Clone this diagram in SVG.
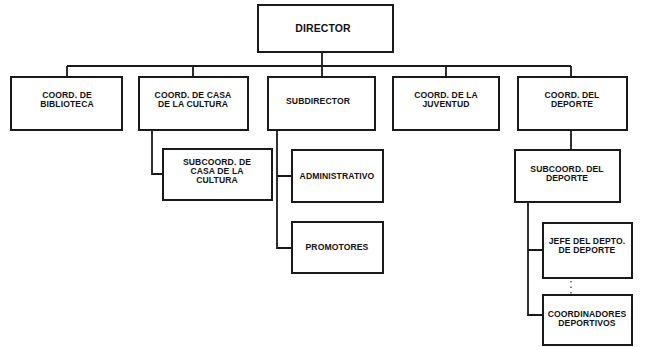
<svg xmlns="http://www.w3.org/2000/svg" width="647" height="347" viewBox="0 0 647 347">
  <style>
    .box { fill: #fff; stroke: #1a1a1a; stroke-width: 2; }
    .lbl { font-family: "Liberation Sans", Arial, sans-serif; font-weight: bold; font-size: 8.6px; fill: #111; text-anchor: middle; letter-spacing: 0.1px; }
    .big { font-size: 10.5px; }
    .wire { fill: none; stroke: #1a1a1a; stroke-width: 1.8; }
    .dots { fill: none; stroke: #333; stroke-width: 1.2; stroke-dasharray: 1.5 4; }
  </style>
  <rect width="647" height="347" fill="#fff"/>

  <g id="connectors">
    <!-- director to first row bus -->
    <path class="wire" d="M322 52 V66 M67 66 H571 M67 66 V77 M193 66 V77 M322 66 V77 M446 66 V77 M571 66 V77"/>
    <!-- casa de la cultura branch -->
    <path class="wire" d="M152 130 V174 H163"/>
    <!-- subdirector branch -->
    <path class="wire" d="M277 130 V248 H292 M277 176 H292"/>
    <!-- deporte branch -->
    <path class="wire" d="M571 130 V150 M528 202 V315 H543 M528 250 H543"/>
    <path class="dots" d="M571 92 V108 M571 270 V342"/>
  </g>

  <g id="director">
    <rect class="box" x="258" y="5" width="135" height="47"/>
    <text class="lbl big" x="323" y="32">DIRECTOR</text>
  </g>

  <g id="coord-biblioteca">
    <rect class="box" x="11" y="77" width="111" height="53"/>
    <text class="lbl" x="67" y="98">COORD. DE</text>
    <text class="lbl" x="67" y="107">BIBLIOTECA</text>
  </g>

  <g id="coord-casa-cultura">
    <rect class="box" x="139" y="77" width="109" height="53"/>
    <text class="lbl" x="193" y="98">COORD. DE CASA</text>
    <text class="lbl" x="193" y="107">DE LA CULTURA</text>
  </g>

  <g id="subdirector">
    <rect class="box" x="268" y="77" width="107" height="53"/>
    <text class="lbl" x="318" y="104">SUBDIRECTOR</text>
  </g>

  <g id="coord-juventud">
    <rect class="box" x="393" y="77" width="106" height="53"/>
    <text class="lbl" x="446" y="98">COORD. DE LA</text>
    <text class="lbl" x="446" y="107">JUVENTUD</text>
  </g>

  <g id="coord-deporte">
    <rect class="box" x="518" y="77" width="109" height="53"/>
    <text class="lbl" x="572" y="98">COORD. DEL</text>
    <text class="lbl" x="572" y="107">DEPORTE</text>
  </g>

  <g id="subcoord-casa-cultura">
    <rect class="box" x="163" y="149" width="109" height="51"/>
    <text class="lbl" x="217" y="165">SUBCOORD. DE</text>
    <text class="lbl" x="217" y="174">CASA DE LA</text>
    <text class="lbl" x="217" y="183">CULTURA</text>
  </g>

  <g id="administrativo">
    <rect class="box" x="292" y="150" width="91" height="52"/>
    <text class="lbl" x="337" y="179">ADMINISTRATIVO</text>
  </g>

  <g id="promotores">
    <rect class="box" x="292" y="222" width="91" height="51"/>
    <text class="lbl" x="337" y="250">PROMOTORES</text>
  </g>

  <g id="subcoord-deporte">
    <rect class="box" x="515" y="150" width="105" height="52"/>
    <text class="lbl" x="567" y="172">SUBCOORD. DEL</text>
    <text class="lbl" x="567" y="181">DEPORTE</text>
  </g>

  <g id="jefe-depto-deporte">
    <rect class="box" x="543" y="223" width="89" height="55"/>
    <text class="lbl" x="587" y="244">JEFE DEL DEPTO.</text>
    <text class="lbl" x="587" y="253">DE DEPORTE</text>
  </g>

  <g id="coordinadores-deportivos">
    <rect class="box" x="543" y="295" width="89" height="50"/>
    <text class="lbl" x="587" y="317">COORDINADORES</text>
    <text class="lbl" x="587" y="326">DEPORTIVOS</text>
  </g>
</svg>
